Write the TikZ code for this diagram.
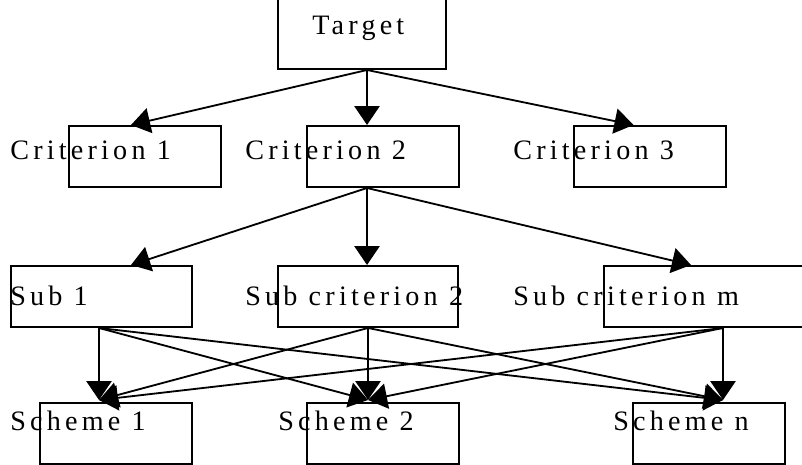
\documentclass[tikz,border=0pt]{standalone}
\usepackage{fontspec}
\setmainfont{Liberation Serif}[LetterSpace=15]
\usetikzlibrary{arrows.meta,positioning,calc}

\begin{document}
\begin{tikzpicture} [
		x=0.025cm, y=-0.025cm,
		box/.style  = { rectangle, draw=black, line width=1.4pt, inner sep=0pt,
			anchor=north west, minimum width=3.8cm, minimum height=1.525cm },
		lbl/.style  = { anchor=base west, inner sep=0pt,
			font=\fontsize{20}{24}\selectfont },
		line/.style = { draw, line width=1.3pt, -{Triangle[length=13.5pt,width=18pt]} },
	]
	\useasboundingbox (0,0) rectangle (802,465);
	\clip (0,0) rectangle (802,465);
	% boxes of the hierarchy
	\begin{scope}
		\node [box, minimum width=4.2cm, minimum height=2.7cm] (target) at (277,-40) {};
		\node [box] (crit1) at (68,125) {};
		\node [box] (crit2) at (306,125) {};
		\node [box] (crit3) at (573,125) {};
		\node [box, minimum width=4.525cm] (sub1) at (10,265) {};
		\node [box, minimum width=4.5cm] (sub2) at (277,265) {};
		\node [box, minimum width=5.95cm] (subm) at (603,265) {};
		\node [box] (scheme1) at (39,402) {};
		\node [box] (scheme2) at (306,402) {};
		\node [box] (schemen) at (632,402) {};
	\end{scope}
	% texts, set beside the boxes
	\node [lbl] (targettxt) at (312,35) {Target};
	\node [lbl] (crit1txt) at (10,160) {Criterion 1};
	\node [lbl] (crit2txt) at (245,160) {Criterion 2};
	\node [lbl] (crit3txt) at (513,160) {Criterion 3};
	\node [lbl] (sub1txt) at (10,306) {Sub 1};
	\node [lbl] (sub2txt) at (245,306) {Sub criterion 2};
	\node [lbl] (submtxt) at (513,306) {Sub criterion m};
	\node [lbl] (scheme1txt) at (10,430) {Scheme 1};
	\node [lbl] (scheme2txt) at (278,430) {Scheme 2};
	\node [lbl] (schementxt) at (613,430) {Scheme n};
	% connect the levels
	\begin{scope} [every path/.style=line]
		\path ($(target.south)+(5,0)$) -- ($(crit1.north)+(-14,0)$);
		\path ($(target.south)+(5,0)$) -- ($(crit2.north)+(-16,0)$);
		\path ($(target.south)+(5,0)$) -- ($(crit3.north)+(-16.5,0)$);
		\path ($(crit2.south)+(-16,0)$) -- ($(sub1.north)+(29.5,0)$);
		\path ($(crit2.south)+(-16,0)$) -- ($(sub2.north)+(-1,0)$);
		\path ($(crit2.south)+(-16,0)$) -- ($(subm.north)+(-32,0)$);
		\foreach \from/\dx in {sub1/-2.5, sub2/0, subm/0} {
			\path ($(\from.south)+(\dx,0)$) -- ($(scheme1.north)+(-17,-2)$);
			\path ($(\from.south)+(\dx,0)$) -- ($(scheme2.north)+(-15,-2)$);
			\path ($(\from.south)+(\dx,0)$) -- ($(schemen.north)+(14,-2)$);
		}
	\end{scope}
\end{tikzpicture}
\end{document}
